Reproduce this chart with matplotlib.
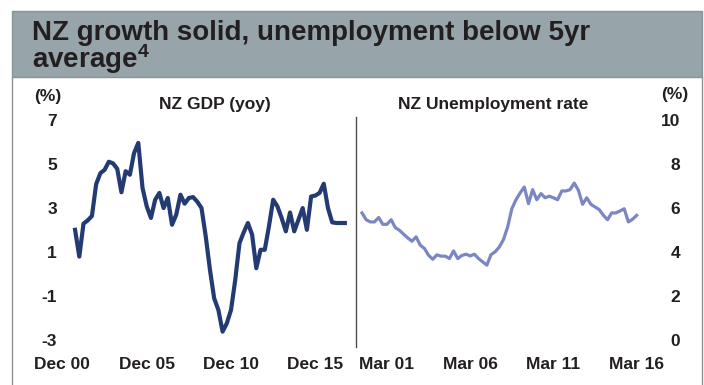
import matplotlib
matplotlib.use("Agg")
import matplotlib.pyplot as plt
from matplotlib.patches import Rectangle
from matplotlib.lines import Line2D
import pandas as pd

plt.rcParams['font.family'] = ['Liberation Sans', 'DejaVu Sans']
plt.rcParams['font.weight'] = 'bold'
plt.rcParams['mathtext.fontset'] = 'custom'
plt.rcParams['mathtext.rm'] = 'Liberation Sans:bold'
plt.rcParams['mathtext.bf'] = 'Liberation Sans:bold'
plt.rcParams['mathtext.it'] = 'Liberation Sans:bold'

# GDP yoy (%), quarterly
gdp = [2.02, 0.8, 2.3, 2.45, 2.65, 4.1, 4.6, 4.75, 5.12, 5.05,
       4.8, 3.73, 4.69, 4.53, 5.52, 5.98, 3.93, 3.09, 2.56, 3.39,
       3.70, 3.01, 3.47, 2.25, 2.71, 3.62, 3.21, 3.47, 3.51, 3.3,
       3.01, 1.72, 0.2, -1.1, -1.63, -2.62, -2.24, -1.63, -0.26, 1.41,
       1.9, 2.33, 1.8, 0.27, 1.11, 1.11, 2.18, 3.39, 3.09, 2.56,
       1.95, 2.81, 1.95, 2.48, 3.01, 2.02, 3.54, 3.58, 3.70, 4.12,
       3.01, 2.36, 2.33, 2.33, 2.33]
gdp_start = '2001Q3'
gdp_ticks = ['2000Q4', '2005Q4', '2010Q4', '2015Q4']
gdp_ticklabels = ['Dec 00', 'Dec 05', 'Dec 10', 'Dec 15']

# unemployment rate (%), quarterly
unemp = [5.79, 5.48, 5.38, 5.38, 5.58, 5.27, 5.27, 5.48, 5.12, 5.0,
         4.82, 4.65, 4.5, 4.7, 4.32, 4.17, 3.86, 3.68, 3.88, 3.82,
         3.82, 3.71, 4.06, 3.71, 3.85, 3.91, 3.83, 3.91, 3.71, 3.56,
         3.41, 3.89, 4.02, 4.24, 4.58, 5.15, 5.98, 6.39, 6.7, 6.97,
         6.21, 6.85, 6.39, 6.67, 6.48, 6.55, 6.48, 6.39, 6.79, 6.79,
         6.85, 7.15, 6.82, 6.18, 6.48, 6.18, 6.06, 5.94, 5.68, 5.48,
         5.79, 5.79, 5.88, 5.98, 5.38, 5.5, 5.68]
unemp_start = '1999Q3'
unemp_ticks = ['2001Q1', '2006Q1', '2011Q1', '2016Q1']
unemp_ticklabels = ['Mar 01', 'Mar 06', 'Mar 11', 'Mar 16']

gdp_yticks = [-3, -1, 1, 3, 5, 7]
unemp_yticks = [0, 2, 4, 6, 8, 10]

txt = '#231f20'
W, H = 704, 385

fig = plt.figure(figsize=(W / 100, H / 100), dpi=100)

# title bar
fig.patches.append(Rectangle((12 / W, 1 - 77 / H), 690 / W, 66.3 / H,
                             transform=fig.transFigure, facecolor='#97a4a9',
                             edgecolor='#87949a', lw=1))
fig.text(32 / W, 1 - 20 / H,
         'NZ growth solid, unemployment below 5yr\naverage$^{4}$',
         fontsize=20, color=txt, va='top', ha='left', linespacing=0.87)

# frame lines
for xp in (12, 702):
    fig.lines.append(Line2D([xp / W, xp / W], [1 - 77 / H, 0],
                            transform=fig.transFigure, color='#8f8f8f', lw=1))
fig.lines.append(Line2D([356 / W, 356 / W], [1 - 117 / H, 1 - 347 / H],
                        transform=fig.transFigure, color='#4d4d4d', lw=1))

bottom = (H - 340) / H
height = 219.5 / H
ax1 = fig.add_axes([62 / W, bottom, 290 / W, height])
ax2 = fig.add_axes([357 / W, bottom, 293 / W, height])

# GDP panel
gx = pd.period_range(gdp_start, periods=len(gdp), freq='Q').asi8
ax1.plot(gx, gdp, color='#233a72', lw=3, solid_joinstyle='round')
ax1.set_xlim(gx[0] - 3.1, gx[-1] + 1.7)
ax1.set_ylim(-3, 7)
ax1.set_yticks(gdp_yticks)
ax1.set_yticklabels([str(v) for v in gdp_yticks])
ax1.set_xticks([pd.Period(q, freq='Q').ordinal for q in gdp_ticks])
ax1.set_xticklabels(gdp_ticklabels)
ax1.tick_params(axis='y', length=0, pad=3.6, labelsize=12.5, labelcolor=txt)
ax1.tick_params(axis='x', length=0, pad=12, labelsize=12.5, labelcolor=txt)

# unemployment panel
ux = pd.period_range(unemp_start, periods=len(unemp), freq='Q').asi8
ax2.plot(ux, unemp, color='#7b86c4', lw=2.3, solid_joinstyle='round')
ax2.set_xlim(ux[0] - 1.2, ux[-1] + 3.2)
ax2.set_ylim(0, 10)
ax2.yaxis.tick_right()
ax2.set_yticks(unemp_yticks)
ax2.set_yticklabels([str(v) for v in unemp_yticks])
for lab in ax2.get_yticklabels():
    lab.set_horizontalalignment('right')
ax2.set_xticks([pd.Period(q, freq='Q').ordinal for q in unemp_ticks])
ax2.set_xticklabels(unemp_ticklabels)
ax2.tick_params(axis='y', length=0, pad=21.6, labelsize=12.5, labelcolor=txt)
ax2.tick_params(axis='x', length=0, pad=12, labelsize=12.5, labelcolor=txt)

for ax in (ax1, ax2):
    for s in ax.spines.values():
        s.set_visible(False)
    ax.patch.set_alpha(0)

fig.text(215 / W, 1 - 104 / H, 'NZ GDP (yoy)', fontsize=12.5, color=txt,
         ha='center', va='center')
fig.text(493 / W, 1 - 104 / H, 'NZ Unemployment rate', fontsize=12.5,
         color=txt, ha='center', va='center')
fig.text(48 / W, 1 - 97 / H, '(%)', fontsize=12.5, color=txt,
         ha='center', va='center')
fig.text(675 / W, 1 - 95 / H, '(%)', fontsize=12.5, color=txt,
         ha='center', va='center')

fig.savefig('out.png', dpi=100)
